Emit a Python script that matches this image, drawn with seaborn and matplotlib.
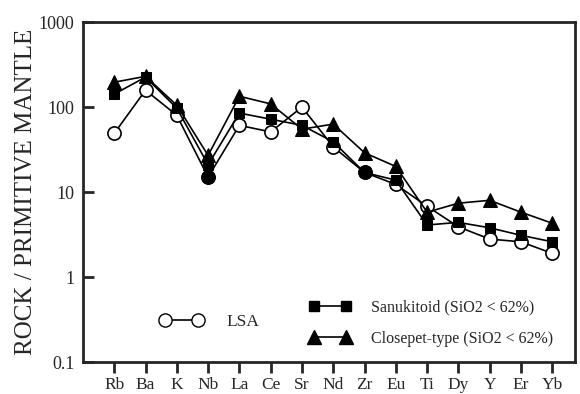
import numpy as np
import pandas as pd
import matplotlib
matplotlib.use("Agg")
import matplotlib.pyplot as plt
from matplotlib.lines import Line2D
from matplotlib.ticker import FixedLocator, FixedFormatter, NullLocator
import seaborn as sns

# elementos (diagrama multi-elementar normalizado ao manto primitivo)
elementos = ["Rb", "Ba", "K", "Nb", "La", "Ce", "Sr", "Nd", "Zr", "Eu", "Ti", "Dy", "Y", "Er", "Yb"]
lsa = [49, 158, 80, 15, 61, 51, 100, 34, 17, 12.3, 6.8, 3.9, 2.8, 2.6, 1.9]
sanukitoid = [142, 225, 97, 21, 85, 72, 61, 39, 17, 13.8, 4.1, 4.4, 3.8, 3.1, 2.6]
closepet = [196, 230, 105, 27, 134, 109, 55, 63, 29, 20, 5.8, 7.4, 8.0, 5.8, 4.3]
# pontos do LSA desenhados cheios (Nb, Zr)
lsa_cheios = ["Nb", "Zr"]

ticks_y = [0.1, 1, 10, 100, 1000]
rotulos_y = ["0.1", "1", "10", "100", "1000"]

sns.set_style("ticks")
plt.rcParams["font.family"] = ["Liberation Serif", "DejaVu Serif"]

fig = plt.figure(figsize=(5.8, 3.94), dpi=100)
ax = fig.add_axes([0.143, 0.081, 0.848, 0.863])

x = np.arange(len(elementos))
df = pd.DataFrame({"x": x, "LSA": lsa, "San": sanukitoid, "Clo": closepet})

sns.lineplot(data=df, x="x", y="LSA", ax=ax, color="black", lw=1.2, marker="o",
             markersize=9.5, markerfacecolor="white", markeredgecolor="black",
             markeredgewidth=1.2, zorder=3)
sns.lineplot(data=df, x="x", y="San", ax=ax, color="black", lw=1.2, marker="s",
             markersize=7, markerfacecolor="black", markeredgecolor="black", zorder=4)
sns.lineplot(data=df, x="x", y="Clo", ax=ax, color="black", lw=1.2, marker="^",
             markersize=9.5, markerfacecolor="black", markeredgecolor="black", zorder=5)

mask = df.index[[e in lsa_cheios for e in elementos]]
sns.scatterplot(x=df.loc[mask, "x"], y=df.loc[mask, "LSA"], ax=ax, color="black",
                s=90, marker="o", edgecolor="black", zorder=6)

ax.set_yscale("log")
ax.set_ylim(0.1, 1000)
ax.set_xlim(-1, 14.72)
ax.yaxis.set_major_locator(FixedLocator(ticks_y))
ax.yaxis.set_major_formatter(FixedFormatter(rotulos_y))
ax.yaxis.set_minor_locator(NullLocator())
ax.set_xticks(x)
ax.set_xticklabels(elementos)
ax.set_xlabel("")
ax.set_ylabel("ROCK / PRIMITIVE MANTLE", fontsize=18, labelpad=1)

ax.tick_params(axis="y", direction="in", length=8, width=2, labelsize=13, pad=6)
ax.tick_params(axis="x", direction="out", length=8, width=2, labelsize=12.5, pad=3)
for s in ax.spines.values():
    s.set_visible(True)
    s.set_linewidth(2)

h_lsa = Line2D([], [], color="black", lw=1.2, marker="o", markersize=9.5,
               markerfacecolor="white", markeredgecolor="black")
h_san = Line2D([], [], color="black", lw=1.2, marker="s", markersize=7,
               markerfacecolor="black")
h_clo = Line2D([], [], color="black", lw=1.2, marker="^", markersize=9.5,
               markerfacecolor="black")

leg1 = ax.legend([h_lsa], ["LSA"], numpoints=2, handlelength=2.5, frameon=False,
                 fontsize=12.5, loc="center left", bbox_to_anchor=(0.125, 0.118),
                 handletextpad=1.3)
ax.add_artist(leg1)
ax.legend([h_san, h_clo], ["Sanukitoid (SiO2 < 62%)", "Closepet-type (SiO2 < 62%)"],
          numpoints=2, handlelength=2.6, frameon=False, fontsize=11.5,
          loc="center left", bbox_to_anchor=(0.43, 0.115), handletextpad=1.3,
          labelspacing=0.95)

fig.savefig("out.png", dpi=100)
